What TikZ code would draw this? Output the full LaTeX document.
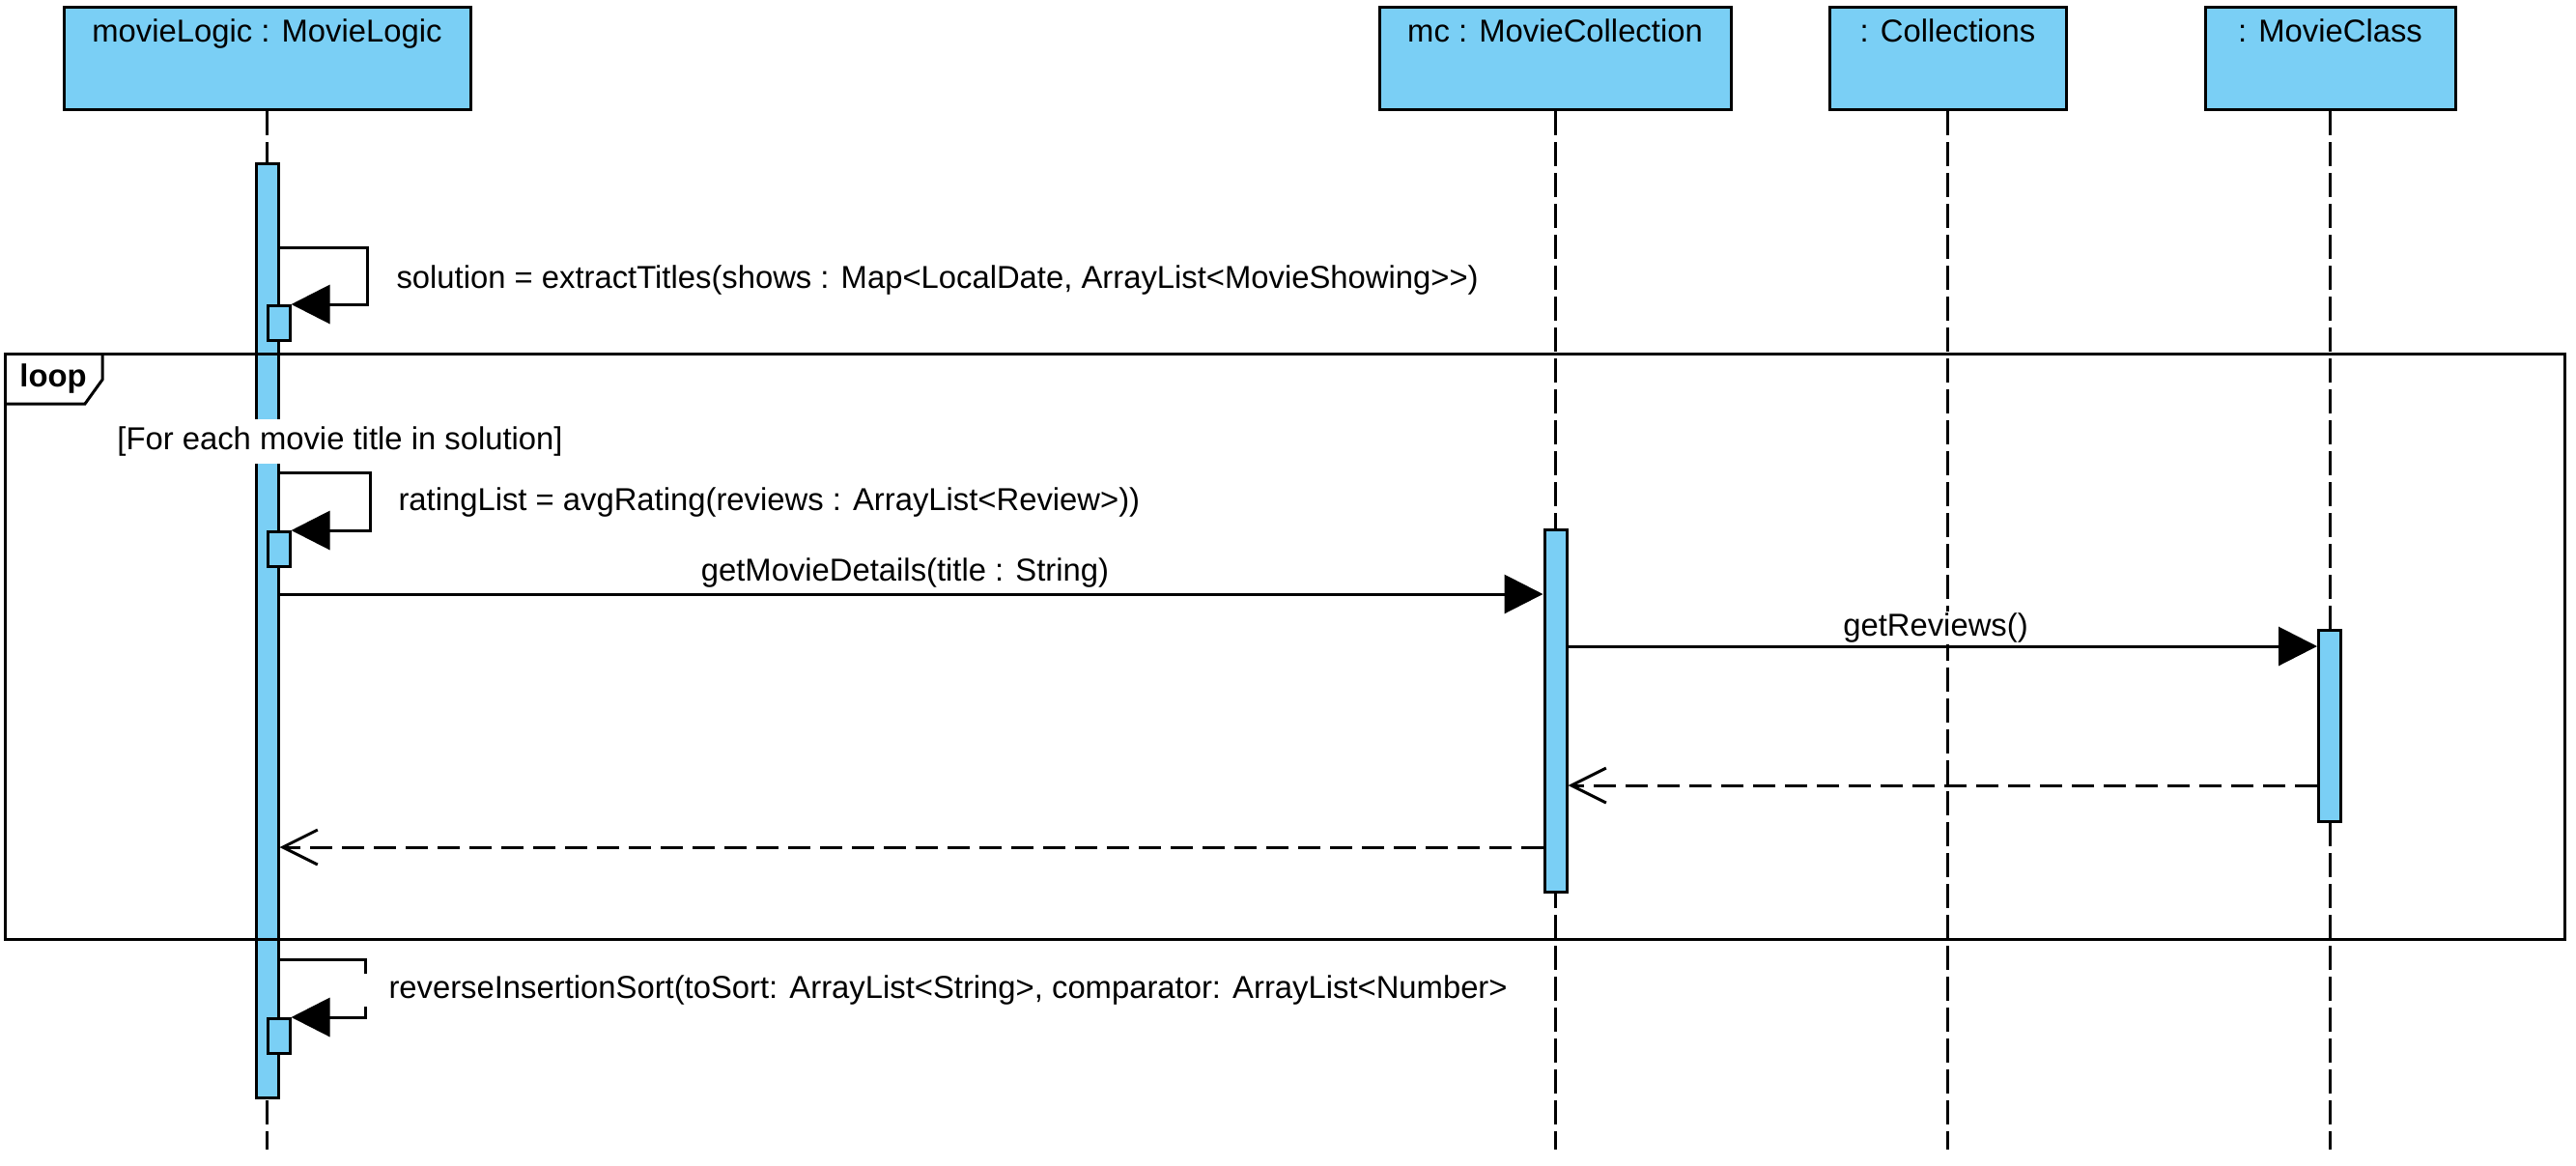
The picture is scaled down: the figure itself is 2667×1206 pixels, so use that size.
\documentclass[tikz,border=0pt]{standalone}
\usepackage{fontspec}
\setmainfont{Liberation Sans}[Ligatures=TeXOff]
\usetikzlibrary{arrows.meta}

\definecolor{lifeblue}{RGB}{122,207,245}
\tikzset{
	objbox/.style={draw, fill=lifeblue, anchor=north, minimum height=53pt, inner ysep=0pt, text height=18pt, text depth=35pt},
	actbar/.style={draw, fill=lifeblue, anchor=north, inner sep=0pt, minimum width=11.5pt},
	lifeline/.style={dash pattern=on 12.5pt off 3.5pt},
	call/.style={-{Triangle[length=20pt,width=20pt]}},
	reply/.style={dash pattern=on 11.5pt off 5pt, -{Straight Barb[length=18pt,width=18pt]}},
	msglabel/.style={fill=white, inner xsep=13.5pt, inner ysep=1pt}}
\tikzset{every picture/.style={line width=1.5pt}}

\begin{document}
\begin{tikzpicture}[x=0.5pt,y=0.5pt,yscale=-1,xscale=1,font=\fontsize{16.4}{19.5}\selectfont]
	\useasboundingbox (0,0) rectangle (2667,1206);
	\coordinate (bottom) at (0,1190);

	%Shape: Lifeline heads
	\node[objbox, minimum width=210.5pt] (ml) at (276.5,6) {movieLogic : MovieLogic};
	\node[objbox, minimum width=182pt] (mc) at (1610,6) {mc : MovieCollection};
	\node[objbox, minimum width=122.5pt] (coll) at (2016.5,6) {: Collections};
	\node[objbox, minimum width=129.5pt] (mcls) at (2412.5,6) {: MovieClass};

	%Straight Lines: lifelines
	\draw[lifeline] (ml.south) -- (ml.south |- bottom);
	\draw[lifeline] (mc.south) -- (mc.south |- bottom);
	\draw[lifeline] (coll.south) -- (coll.south |- bottom);
	\draw[lifeline] (mcls.south) -- (mcls.south |- bottom);

	%Shape: Activations
	\node[actbar, minimum height=483.5pt] (mlbar) at (276.5,168) {};
	\node[actbar, minimum height=187.5pt] (mcbar) at (1610.5,547) {};
	\node[actbar, minimum height=99pt] (mclsbar) at (2412,651) {};
	\node[actbar, minimum height=18pt] (sx1) at (288.5,315) {};
	\node[actbar, minimum height=18pt] (sx2) at (288.5,549) {};
	\node[actbar, minimum height=18pt] (sx3) at (288.5,1053) {};

	%Shape: Loop frame
	\draw (5,366) rectangle (2655,972);
	\draw (5,418) -- (88,418) -- (106,393) -- (106,366);
	% Text Node
	\node[font=\fontsize{16.4}{19.5}\selectfont\bfseries] (looptag) at (55,392) {loop};
	% Text Node
	\node[fill=white, inner xsep=0pt, inner ysep=3.8pt] (guard) at (352,457) {[For each movie title in solution]};

	%Self messages
	\coordinate (s1) at (0,256);
	\draw[call] (mlbar.east |- s1) -- ++(91,0) |- (sx1.north east);
	\coordinate (s2) at (0,489);
	\draw[call] (mlbar.east |- s2) -- ++(94,0) |- (sx2.north east);
	\coordinate (s3) at (0,993);
	\draw[call] (mlbar.east |- s3) -- ++(89,0) |- (sx3.north east);

	% Text Node
	\node[msglabel, anchor=west] (lbl1) at (382,290) {solution = extractTitles(shows : Map<LocalDate, ArrayList<MovieShowing>>)};
	% Text Node
	\node[msglabel, anchor=west] (lbl2) at (384,520) {ratingList = avgRating(reviews : ArrayList<Review>))};
	% Text Node
	\node[msglabel, anchor=west] (lbl5) at (374,1025) {reverseInsertionSort(toSort: ArrayList<String>, comparator: ArrayList<Number>};
	% Text Node
	\node[msglabel] (lbl3) at (937,593) {getMovieDetails(title : String)};
	% Text Node
	\node[msglabel] (lbl4) at (2004,650) {getReviews()};

	%Straight Lines: calls
	\coordinate (m1) at (0,615);
	\draw[call] (mlbar.east |- m1) -- (mcbar.west |- m1);
	\coordinate (m2) at (0,669);
	\draw[call] (mcbar.east |- m2) -- (mclsbar.west |- m2);

	%Straight Lines: replies
	\coordinate (r1) at (0,813);
	\draw[reply] (mclsbar.west |- r1) -- (mcbar.east |- r1);
	\coordinate (r2) at (0,877);
	\draw[reply] (mcbar.west |- r2) -- (mlbar.east |- r2);

\end{tikzpicture}
\end{document}
